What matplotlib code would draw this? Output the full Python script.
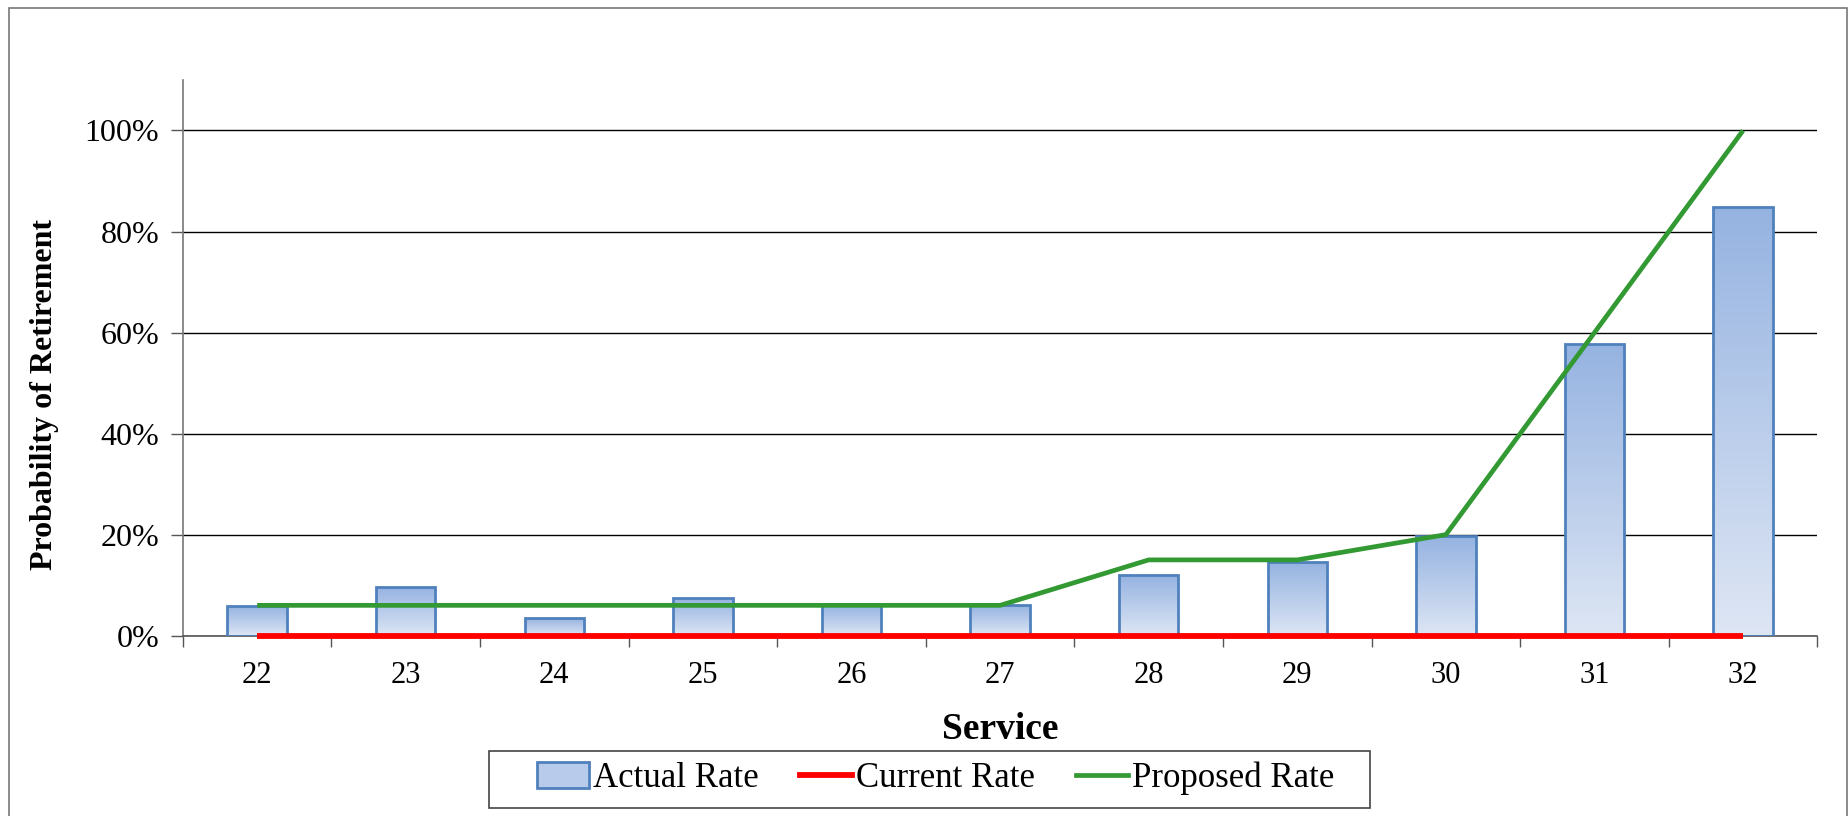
import matplotlib.pyplot as plt
import numpy as np
from matplotlib.patches import Rectangle
from matplotlib.lines import Line2D
from matplotlib.colors import LinearSegmentedColormap
from matplotlib.ticker import PercentFormatter

service = [22, 23, 24, 25, 26, 27, 28, 29, 30, 31, 32]
actual_rate = [0.059, 0.096, 0.034, 0.074, 0.060, 0.060, 0.120, 0.146, 0.197, 0.577, 0.848]
current_rate = [0, 0, 0, 0, 0, 0, 0, 0, 0, 0, 0]
proposed_rate = [0.06, 0.06, 0.06, 0.06, 0.06, 0.06, 0.15, 0.15, 0.20, 0.60, 1.00]

plt.rcParams['font.family'] = ['Liberation Serif', 'DejaVu Serif']

fig = plt.figure(figsize=(18.49, 8.16), dpi=100)
ax = fig.add_axes([0.0989, 0.221, 0.884, 0.681])

# bars with a vertical light-to-dark blue fill
grad = LinearSegmentedColormap.from_list('barfill', ['#dee6f4', '#95b3e1'])
fill = np.linspace(0, 1, 256).reshape(-1, 1)
bars = ax.bar(service, actual_rate, width=0.4, color='none',
              edgecolor='#4f81bd', linewidth=2, zorder=3)
for b in bars:
    x0, y0 = b.get_x(), b.get_y()
    w, h = b.get_width(), b.get_height()
    img = ax.imshow(fill, cmap=grad, aspect='auto', origin='lower',
                    extent=[x0, x0 + w, y0, y0 + h], zorder=2)
    img.set_clip_path(b)

ax.plot(service, current_rate, color='#ff0000', linewidth=4.2, zorder=6,
        solid_capstyle='butt', clip_on=False)
ax.plot(service, proposed_rate, color='#339933', linewidth=3.4, zorder=5,
        solid_capstyle='butt', clip_on=False)

ax.set_xlim(21.5, 32.5)
ax.set_ylim(0, 1.1)
ax.set_yticks(np.arange(0, 1.01, 0.2))
ax.yaxis.set_major_formatter(PercentFormatter(1.0, decimals=0))
ax.set_xticks(service)
ax.set_xticks(np.arange(21.5, 32.6, 1), minor=True)
ax.tick_params(axis='x', which='major', length=0, pad=18, labelsize=22)
ax.tick_params(axis='x', which='minor', length=8, width=1, color='#555555')
ax.tick_params(axis='y', length=9, width=1, color='#555555', pad=8, labelsize=23)

ax.grid(axis='y', color='#000000', linewidth=1, zorder=0)
ax.set_axisbelow(True)
for s in ['top', 'right']:
    ax.spines[s].set_visible(False)
ax.spines['left'].set_color('#777777')
ax.spines['bottom'].set_color('#555555')
ax.spines['left'].set_linewidth(1.2)
ax.spines['bottom'].set_linewidth(1.2)

ax.set_xlabel('Service', fontsize=27, fontweight='bold', labelpad=16)
fig.text(0.0243, 0.517, 'Probability of Retirement', rotation=90, fontsize=23,
         fontweight='bold', ha='center', va='center')

handles = [Rectangle((0, 0), 1, 1, facecolor='#b9cbea', edgecolor='#4f81bd', linewidth=2),
           Line2D([0], [0], color='#ff0000', linewidth=4.2),
           Line2D([0], [0], color='#339933', linewidth=3.4)]
fig.legend(handles, ['Actual Rate', 'Current Rate', 'Proposed Rate'],
           loc='center', bbox_to_anchor=(0.506, 0.0463), ncol=3,
           fontsize=25, frameon=False, handlelength=1.5, handleheight=0.75,
           handletextpad=0.1, columnspacing=1.2, borderpad=0, borderaxespad=0)
# legend box
fig.patches.append(Rectangle((0.2646, 0.0103), 0.4765, 0.0694, transform=fig.transFigure,
                             fill=False, edgecolor='#444444', linewidth=1.2))

# thin frame around the whole chart area
fig.patches.append(Rectangle((0.005, -0.01), 0.994, 1.0, transform=fig.transFigure,
                             fill=False, edgecolor='#777777', linewidth=1.2))

fig.savefig('out.png', dpi=100)
